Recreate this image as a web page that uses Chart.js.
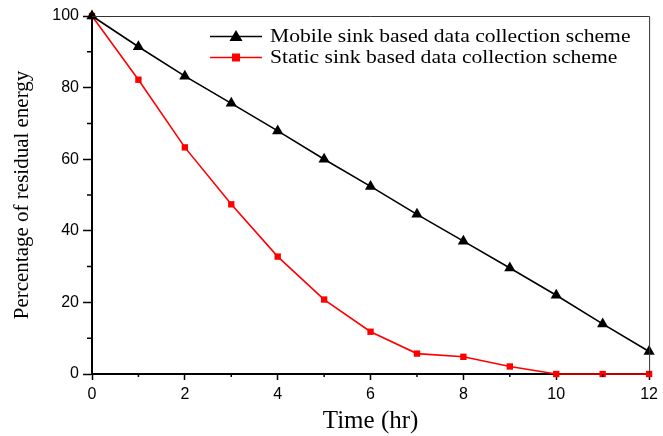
<!DOCTYPE html>
<html lang="en">
<head>
    <meta charset="UTF-8">
    <title>Residual energy vs time</title>
    <script src="https://cdn.jsdelivr.net/npm/chart.js"></script>
    <style>
        html, body { margin: 0; padding: 0; background: #FFFFFF; }
        .wrap { width: 663px; height: 436px; position: relative; }
    </style>
</head>
<body>
    <div class="wrap"><canvas id="energyChart"></canvas></div>
    <script>
        // data
        const hours = [0, 1, 2, 3, 4, 5, 6, 7, 8, 9, 10, 11, 12];
        const mobileSink = [100, 91.4, 83.2, 75.6, 67.9, 60.0, 52.4, 44.6, 37.1, 29.6, 22.0, 14.0, 6.3];
        const staticSink = [100, 82.2, 63.3, 47.4, 32.8, 20.8, 11.8, 5.7, 4.8, 2.1, 0, 0, 0];
        const seriesNames = ['Mobile sink based data collection scheme', 'Static sink based data collection scheme'];
        const xLabels = [0, 2, 4, 6, 8, 10, 12];
        const yLabels = [0, 20, 40, 60, 80, 100];

        const serif = '"Liberation Serif", "Times New Roman", serif';
        const sans = '"Liberation Sans", Arial, sans-serif';

        // frame, minor ticks and the in-plot legend
        const decorations = {
            id: 'decorations',
            afterDraw(chart) {
                const ctx = chart.ctx;
                const a = chart.chartArea;
                const xs = chart.scales.x, ys = chart.scales.y;
                ctx.save();
                ctx.strokeStyle = '#333';
                ctx.lineWidth = 1;
                ctx.beginPath();
                ctx.moveTo(a.left, a.top + 0.5);
                ctx.lineTo(a.right + 0.5, a.top + 0.5);
                ctx.lineTo(a.right + 0.5, a.bottom);
                ctx.stroke();

                // minor ticks
                ctx.strokeStyle = '#000';
                ctx.lineWidth = 1.5;
                ctx.beginPath();
                hours.forEach(h => {
                    if (h % 2 === 1) {
                        const px = xs.getPixelForValue(h);
                        ctx.moveTo(px, a.bottom);
                        ctx.lineTo(px, a.bottom + 3);
                    }
                });
                for (let v = 10; v < 100; v += 20) {
                    const py = ys.getPixelForValue(v);
                    ctx.moveTo(a.left, py);
                    ctx.lineTo(a.left - 5, py);
                }
                ctx.stroke();

                // legend
                const rows = [
                    { name: seriesNames[0], color: '#000000', shape: 'tri', y: 36.5 },
                    { name: seriesNames[1], color: '#FF0000', shape: 'sq', y: 57.5 }
                ];
                rows.forEach(r => {
                    ctx.strokeStyle = r.color;
                    ctx.fillStyle = r.color;
                    ctx.lineWidth = 1.5;
                    ctx.beginPath();
                    ctx.moveTo(210, r.y);
                    ctx.lineTo(262, r.y);
                    ctx.stroke();
                    ctx.beginPath();
                    if (r.shape === 'tri') {
                        ctx.moveTo(236, r.y - 6.5);
                        ctx.lineTo(242.5, r.y + 4.5);
                        ctx.lineTo(229.5, r.y + 4.5);
                        ctx.closePath();
                        ctx.fill();
                    } else {
                        ctx.fillRect(232, r.y - 4, 8, 8);
                    }
                    ctx.save();
                    ctx.fillStyle = '#000';
                    ctx.font = '18px ' + serif;
                    ctx.textBaseline = 'middle';
                    ctx.textAlign = 'left';
                    ctx.translate(270, r.y + 1);
                    ctx.scale(1.2, 1);
                    ctx.fillText(r.name, 0, 0);
                    ctx.restore();
                });
                ctx.restore();
            }
        };

        new Chart(document.getElementById('energyChart'), {
            type: 'line',
            data: {
                labels: hours,
                datasets: [{
                    label: seriesNames[0],
                    data: hours.map((h, i) => ({ x: h, y: mobileSink[i] })),
                    borderColor: '#000000',
                    backgroundColor: '#000000',
                    borderWidth: 1.6,
                    pointStyle: 'triangle',
                    pointRadius: 6.5,
                    pointBorderWidth: 0,
                    clip: false,
                    tension: 0
                }, {
                    label: seriesNames[1],
                    data: hours.map((h, i) => ({ x: h, y: staticSink[i] })),
                    borderColor: '#FF0000',
                    backgroundColor: '#FF0000',
                    borderWidth: 1.6,
                    pointStyle: 'rect',
                    pointRadius: 4.5,
                    pointBorderWidth: 0,
                    clip: false,
                    tension: 0
                }]
            },
            options: {
                responsive: true,
                maintainAspectRatio: false,
                animation: false,
                layout: { padding: { top: 16, right: 9, left: 0, bottom: 0 } },
                plugins: { legend: { display: false }, tooltip: { enabled: false } },
                scales: {
                    x: {
                        type: 'linear',
                        min: 0, max: 12,
                        afterFit(s) { s.height = 62; },
                        border: { color: '#000', width: 2 },
                        grid: {
                            drawOnChartArea: false,
                            tickLength: 6,
                            tickWidth: 1.5,
                            tickColor: c => xLabels.includes(c.tick.value) ? '#000' : 'rgba(0,0,0,0)'
                        },
                        ticks: {
                            stepSize: 1,
                            color: '#000',
                            padding: 5,
                            maxRotation: 0,
                            autoSkip: false,
                            font: { family: sans, size: 16 },
                            callback: v => xLabels.includes(v) ? String(v) : ''
                        },
                        title: {
                            display: true,
                            text: 'Time (hr)',
                            color: '#000',
                            font: { family: serif, size: 25 },
                            padding: { top: 6, bottom: 0 }
                        }
                    },
                    y: {
                        min: 0, max: 100,
                        afterFit(s) { s.width = 92; },
                        border: { color: '#000', width: 2 },
                        grid: {
                            drawOnChartArea: false,
                            tickLength: 9,
                            tickWidth: 1.5,
                            tickColor: c => yLabels.includes(c.tick.value) ? '#000' : 'rgba(0,0,0,0)'
                        },
                        ticks: {
                            stepSize: 10,
                            color: '#000',
                            padding: 4,
                            autoSkip: false,
                            font: { family: sans, size: 16 },
                            callback: v => yLabels.includes(v) ? String(v) : ''
                        },
                        title: {
                            display: true,
                            text: 'Percentage of residual energy',
                            color: '#000',
                            font: { family: serif, size: 21 },
                            padding: { top: 10, bottom: 4 }
                        }
                    }
                }
            },
            plugins: [decorations]
        });
    </script>
</body>
</html>
